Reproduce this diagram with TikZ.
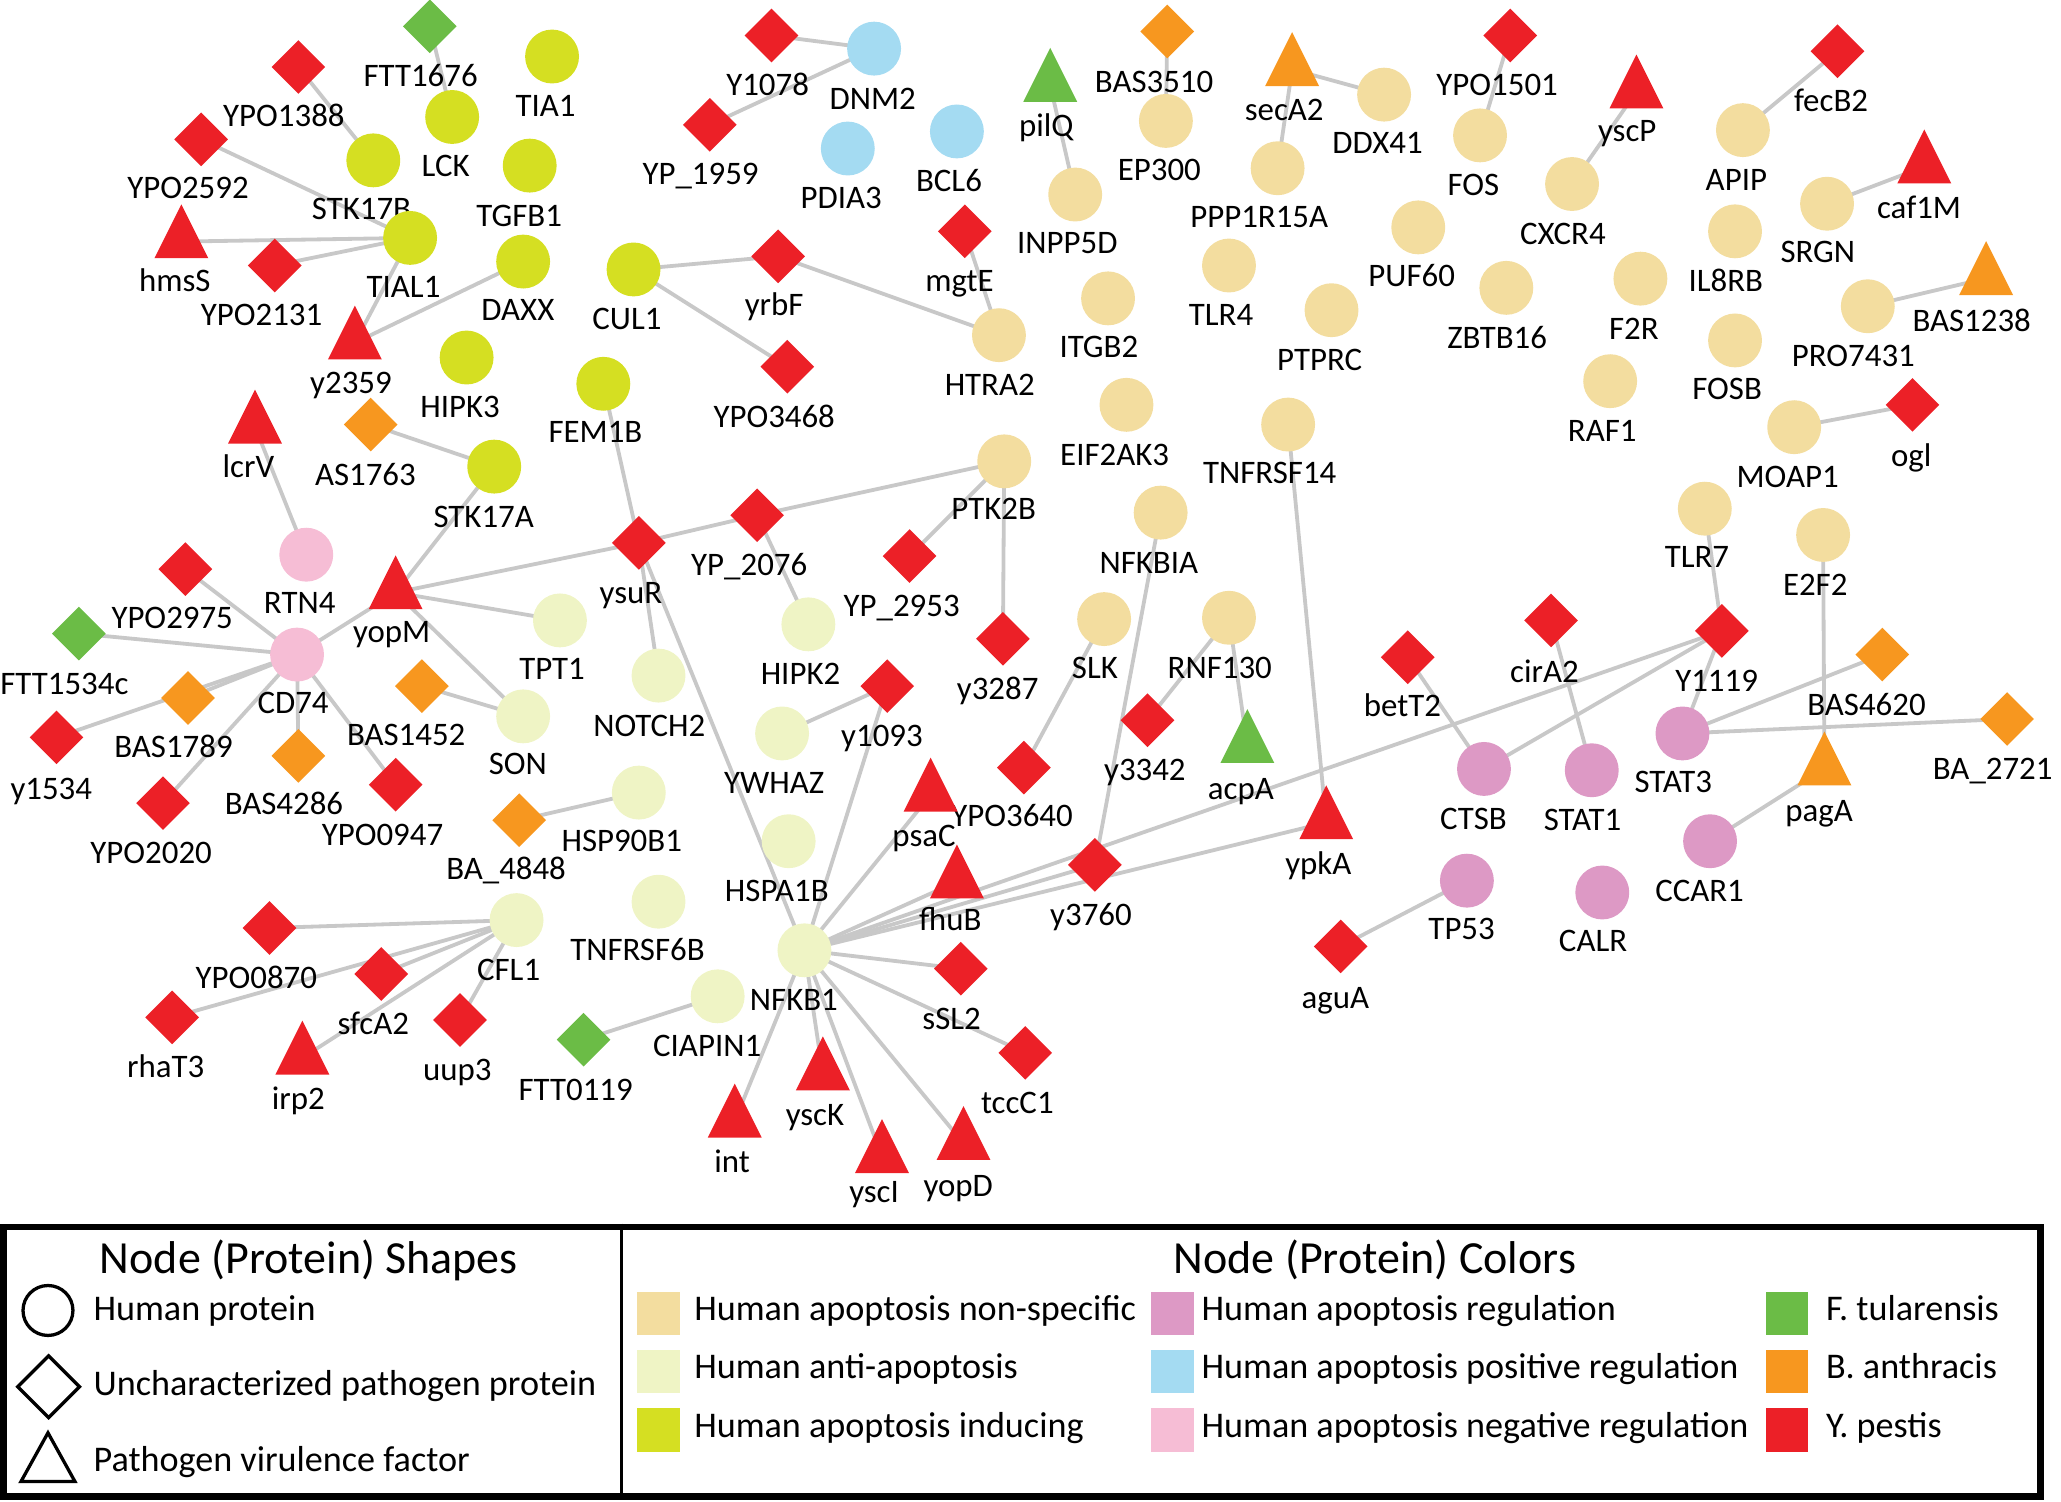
\documentclass[tikz,border=0pt]{standalone}
\usepackage{fontspec}
\setmainfont{Carlito}
\usetikzlibrary{shapes.geometric}
\definecolor{cns}{HTML}{F3DD9F}
\definecolor{canti}{HTML}{EFF4C5}
\definecolor{cind}{HTML}{D5DF22}
\definecolor{creg}{HTML}{DD99C5}
\definecolor{cpos}{HTML}{A4DBF2}
\definecolor{cneg}{HTML}{F6BDD5}
\definecolor{cft}{HTML}{6BBC46}
\definecolor{cba}{HTML}{F7971F}
\definecolor{cyp}{HTML}{EC2027}
\definecolor{cedge}{HTML}{C8C8C8}
\pgfdeclarelayer{bg}
\pgfsetlayers{bg,main}
\newcommand{\pnode}[7]{%
  \node[#2] (#1) at (#3,#4) {};
  \node[lbl] (#1-lab) at (#6,#7) {#5};
}
\tikzset{
  hc/.style={circle, minimum size=41, inner sep=0, draw=none},
  pdia/.style={diamond, minimum width=41, minimum height=41, inner sep=0, draw=none},
  ptri/.style={isosceles triangle, isosceles triangle stretches, shape border rotate=90, minimum width=41, minimum height=41, inner sep=0, draw=none, yshift=-6.8},
  lbl/.style={font=\fontsize{25}{25}\selectfont, inner sep=0, text height=16, text depth=0},
  edge/.style={draw=cedge, line width=2.9},
  legtxt/.style={font=\fontsize{27.5}{27.5}\selectfont, inner sep=0, text height=17.5, text depth=0, anchor=west},
  legtitle/.style={font=\fontsize{35}{35}\selectfont, inner sep=0, text height=22, text depth=0},
  swatch/.style={rectangle, minimum width=32, minimum height=33, inner sep=0, draw=none},
  legshape/.style={draw=black, line width=2.5, fill=white, inner sep=0}
}
\begin{document}
\begin{tikzpicture}[x=1pt,y=-1pt]
\useasboundingbox (0,0) rectangle (1568,1142);
% ---------- left cluster
\pnode{FTT1676}{pdia,fill=cft}{327}{20}{FTT1676}{320}{58}
\pnode{TIA1}{hc,fill=cind}{420}{43}{TIA1}{415}{81}
\pnode{YPO1388}{pdia,fill=cyp}{227}{51}{YPO1388}{216}{88}
\pnode{LCK}{hc,fill=cind}{344}{89}{LCK}{339}{126}
\pnode{YPO2592}{pdia,fill=cyp}{153}{106}{YPO2592}{143}{143}
\pnode{STK17B}{hc,fill=cind}{284}{122}{STK17B}{275}{159}
\pnode{TGFB1}{hc,fill=cind}{403}{126}{TGFB1}{395}{164}
\pnode{hmsS}{ptri,fill=cyp}{138}{177}{hmsS}{133}{214}
\pnode{TIAL1}{hc,fill=cind}{312}{181}{TIAL1}{307}{218}
\pnode{YPO2131}{pdia,fill=cyp}{209}{202}{YPO2131}{199}{240}
\pnode{DAXX}{hc,fill=cind}{398}{199}{DAXX}{394}{236}
\pnode{CUL1}{hc,fill=cind}{482}{205}{CUL1}{477}{243}
\pnode{y2359}{ptri,fill=cyp}{270}{254}{y2359}{267}{291}
\pnode{HIPK3}{hc,fill=cind}{355}{272}{HIPK3}{350}{310}
\pnode{FEM1B}{hc,fill=cind}{459}{292}{FEM1B}{453}{329}
\pnode{lcrV}{ptri,fill=cyp}{194}{318}{lcrV}{189}{355}
\pnode{AS1763}{pdia,fill=cba}{282}{323}{AS1763}{278}{361}
\pnode{STK17A}{hc,fill=cind}{376}{355}{STK17A}{368}{393}
\pnode{RTN4}{hc,fill=cneg}{233}{422}{RTN4}{228}{459}
\pnode{YPO2975}{pdia,fill=cyp}{141}{433}{YPO2975}{131}{470}
\pnode{yopM}{ptri,fill=cyp}{301}{444}{yopM}{298}{481}
\pnode{ysuR}{pdia,fill=cyp}{486}{413}{ysuR}{480}{451}
\pnode{FTT1534c}{pdia,fill=cft}{60}{482}{FTT1534c}{49}{520}
\pnode{CD74}{hc,fill=cneg}{226}{498}{CD74}{223}{535}
\pnode{TPT1}{hc,fill=canti}{426}{472}{TPT1}{420}{509}
\pnode{NOTCH2}{hc,fill=canti}{501}{514}{NOTCH2}{494}{552}
\pnode{BAS1789}{pdia,fill=cba}{143}{531}{BAS1789}{132}{568}
\pnode{BAS1452}{pdia,fill=cba}{321}{522}{BAS1452}{309}{559}
\pnode{SON}{hc,fill=canti}{398}{545}{SON}{394}{581}
\pnode{y1534}{pdia,fill=cyp}{43}{561}{y1534}{39}{600}
\pnode{BAS4286}{pdia,fill=cba}{227}{575}{BAS4286}{216}{612}
\pnode{YPO0947}{pdia,fill=cyp}{301}{597}{YPO0947}{291}{635}
\pnode{YPO2020}{pdia,fill=cyp}{124}{611}{YPO2020}{115}{649}
\pnode{BA4848}{pdia,fill=cba}{395}{624}{BA\_4848}{385}{661}
\pnode{HSP90B1}{hc,fill=canti}{486}{603}{HSP90B1}{473}{640}
\pnode{YPO0870}{pdia,fill=cyp}{205}{706}{YPO0870}{195}{744}
\pnode{CFL1}{hc,fill=canti}{393}{700}{CFL1}{387}{738}
\pnode{TNFRSF6B}{hc,fill=canti}{501}{686}{TNFRSF6B}{485}{723}
\pnode{sfcA2}{pdia,fill=cyp}{290}{741}{sfcA2}{284}{779}
\pnode{CIAPIN1}{hc,fill=canti}{546}{758}{CIAPIN1}{538}{796}
\pnode{rhaT3}{pdia,fill=cyp}{131}{774}{rhaT3}{126}{812}
\pnode{uup3}{pdia,fill=cyp}{350}{776}{uup3}{348}{814}
\pnode{FTT0119}{pdia,fill=cft}{444}{791}{FTT0119}{438}{829}
\pnode{irp2}{ptri,fill=cyp}{230}{798}{irp2}{227}{836}
\pnode{int}{ptri,fill=cyp}{559}{846}{int}{557}{884}
% ---------- middle
\pnode{Y1078}{pdia,fill=cyp}{587}{27}{Y1078}{584}{65}
\pnode{DNM2}{hc,fill=cpos}{665}{37}{DNM2}{664}{75}
\pnode{BAS3510}{pdia,fill=cba}{888}{24}{BAS3510}{878}{62}
\pnode{secA2}{ptri,fill=cba}{983}{46}{secA2}{977}{84}
\pnode{pilQ}{ptri,fill=cft}{799}{58}{pilQ}{796}{96}
\pnode{YP1959}{pdia,fill=cyp}{540}{95}{YP\_1959}{533}{132}
\pnode{PDIA3}{hc,fill=cpos}{645}{113}{PDIA3}{640}{151}
\pnode{BCL6}{hc,fill=cpos}{728}{100}{BCL6}{722}{138}
\pnode{EP300}{hc,fill=cns}{887}{92}{EP300}{882}{129}
\pnode{DDX41}{hc,fill=cns}{1053}{72}{DDX41}{1048}{109}
\pnode{PPP1R15A}{hc,fill=cns}{972}{128}{PPP1R15A}{958}{165}
\pnode{INPP5D}{hc,fill=cns}{818}{148}{INPP5D}{812}{185}
\pnode{mgtE}{pdia,fill=cyp}{734}{176}{mgtE}{730}{214}
\pnode{yrbF}{pdia,fill=cyp}{592}{195}{yrbF}{589}{232}
\pnode{TLR4}{hc,fill=cns}{935}{202}{TLR4}{929}{240}
\pnode{ITGB2}{hc,fill=cns}{843}{227}{ITGB2}{836}{264}
\pnode{PTPRC}{hc,fill=cns}{1013}{236}{PTPRC}{1004}{274}
\pnode{HTRA2}{hc,fill=cns}{760}{255}{HTRA2}{753}{293}
\pnode{YPO3468}{pdia,fill=cyp}{599}{279}{YPO3468}{589}{317}
\pnode{EIF2AK3}{hc,fill=cns}{857}{308}{EIF2AK3}{848}{346}
\pnode{TNFRSF14}{hc,fill=cns}{980}{323}{TNFRSF14}{966}{360}
\pnode{PTK2B}{hc,fill=cns}{764}{351}{PTK2B}{756}{387}
\pnode{YP2076}{pdia,fill=cyp}{576}{392}{YP\_2076}{570}{430}
\pnode{YP2953}{pdia,fill=cyp}{692}{423}{YP\_2953}{686}{461}
\pnode{NFKBIA}{hc,fill=cns}{883}{390}{NFKBIA}{874}{428}
\pnode{HIPK2}{hc,fill=canti}{615}{475}{HIPK2}{609}{513}
\pnode{y3287}{pdia,fill=cyp}{763}{486}{y3287}{759}{524}
\pnode{SLK}{hc,fill=cns}{840}{471}{SLK}{833}{508}
\pnode{RNF130}{hc,fill=cns}{935}{470}{RNF130}{928}{508}
\pnode{y1093}{pdia,fill=cyp}{675}{522}{y1093}{671}{560}
\pnode{YWHAZ}{hc,fill=canti}{595}{558}{YWHAZ}{589}{596}
\pnode{y3342}{pdia,fill=cyp}{873}{548}{y3342}{871}{586}
\pnode{acpA}{ptri,fill=cft}{949}{561}{acpA}{944}{600}
\pnode{YPO3640}{pdia,fill=cyp}{779}{584}{YPO3640}{770}{621}
\pnode{psaC}{ptri,fill=cyp}{708}{598}{psaC}{703}{636}
\pnode{HSPA1B}{hc,fill=canti}{600}{640}{HSPA1B}{591}{678}
\pnode{fhuB}{ptri,fill=cyp}{728}{664}{fhuB}{723}{700}
\pnode{y3760}{pdia,fill=cyp}{833}{658}{y3760}{830}{696}
\pnode{ypkA}{ptri,fill=cyp}{1009}{619}{ypkA}{1003}{657}
\pnode{NFKB1}{hc,fill=canti}{612}{723}{NFKB1}{604}{761}
\pnode{sSL2}{pdia,fill=cyp}{731}{737}{sSL2}{724}{775}
\pnode{tccC1}{pdia,fill=cyp}{780}{801}{tccC1}{774}{839}
\pnode{yscK}{ptri,fill=cyp}{626}{810}{yscK}{620}{848}
\pnode{yscI}{ptri,fill=cyp}{671}{873}{yscI}{665}{907}
\pnode{yopD}{ptri,fill=cyp}{733}{863}{yopD}{729}{902}
\pnode{aguA}{pdia,fill=cyp}{1020}{720}{aguA}{1016}{759}
% ---------- right
\pnode{YPO1501}{pdia,fill=cyp}{1149}{27}{YPO1501}{1139}{65}
\pnode{fecB2}{pdia,fill=cyp}{1398}{39}{fecB2}{1393}{77}
\pnode{yscP}{ptri,fill=cyp}{1245}{63}{yscP}{1238}{100}
\pnode{FOS}{hc,fill=cns}{1126}{103}{FOS}{1121}{141}
\pnode{APIP}{hc,fill=cns}{1326}{99}{APIP}{1321}{137}
\pnode{caf1M}{ptri,fill=cyp}{1464}{120}{caf1M}{1460}{158}
\pnode{CXCR4}{hc,fill=cns}{1196}{140}{CXCR4}{1189}{178}
\pnode{SRGN}{hc,fill=cns}{1390}{155}{SRGN}{1383}{192}
\pnode{PUF60}{hc,fill=cns}{1079}{173}{PUF60}{1074}{210}
\pnode{IL8RB}{hc,fill=cns}{1320}{176}{IL8RB}{1313}{214}
\pnode{F2R}{hc,fill=cns}{1248}{212}{F2R}{1243}{250}
\pnode{ZBTB16}{hc,fill=cns}{1146}{219}{ZBTB16}{1139}{257}
\pnode{BAS1238}{ptri,fill=cba}{1511}{205}{BAS1238}{1500}{244}
\pnode{PRO7431}{hc,fill=cns}{1421}{233}{PRO7431}{1410}{271}
\pnode{FOSB}{hc,fill=cns}{1320}{259}{FOSB}{1314}{296}
\pnode{RAF1}{hc,fill=cns}{1225}{290}{RAF1}{1219}{328}
\pnode{ogl}{pdia,fill=cyp}{1455}{308}{ogl}{1454}{347}
\pnode{MOAP1}{hc,fill=cns}{1365}{325}{MOAP1}{1360}{363}
\pnode{TLR7}{hc,fill=cns}{1297}{387}{TLR7}{1291}{424}
\pnode{E2F2}{hc,fill=cns}{1387}{407}{E2F2}{1381}{445}
\pnode{cirA2}{pdia,fill=cyp}{1180}{472}{cirA2}{1175}{511}
\pnode{Y1119}{pdia,fill=cyp}{1310}{480}{Y1119}{1306}{518}
\pnode{betT2}{pdia,fill=cyp}{1071}{500}{betT2}{1067}{537}
\pnode{BAS4620}{pdia,fill=cba}{1432}{498}{BAS4620}{1420}{536}
\pnode{BA2721}{pdia,fill=cba}{1527}{547}{BA\_2721}{1516}{585}
\pnode{STAT3}{hc,fill=creg}{1280}{558}{STAT3}{1273}{595}
\pnode{pagA}{ptri,fill=cba}{1388}{578}{pagA}{1384}{617}
\pnode{CTSB}{hc,fill=creg}{1129}{585}{CTSB}{1121}{623}
\pnode{STAT1}{hc,fill=creg}{1211}{586}{STAT1}{1204}{624}
\pnode{CCAR1}{hc,fill=creg}{1301}{640}{CCAR1}{1293}{678}
\pnode{TP53}{hc,fill=creg}{1116}{670}{TP53}{1112}{707}
\pnode{CALR}{hc,fill=creg}{1219}{679}{CALR}{1212}{716}
% ---------- edges
\begin{pgfonlayer}{bg}
\foreach \a/\b in {FTT1676/LCK, YPO1388/STK17B, YPO2592/TIAL1, hmsS/TIAL1, YPO2131/TIAL1,
  TIAL1/y2359, y2359/DAXX, AS1763/STK17A, STK17A/yopM, lcrV/RTN4, CUL1/yrbF, yrbF/HTRA2,
  CUL1/YPO3468, mgtE/HTRA2, Y1078/DNM2, YP1959/DNM2, pilQ/INPP5D, BAS3510/EP300,
  secA2/DDX41, secA2/PPP1R15A, YPO1501/FOS, yscP/CXCR4, fecB2/APIP, caf1M/SRGN,
  BAS1238/PRO7431, ogl/MOAP1,
  yopM/ysuR, ysuR/YP2076, YP2076/PTK2B, yopM/TPT1, yopM/SON, yopM/CD74, FEM1B/ysuR,
  ysuR/NOTCH2, ysuR/NFKB1, YP2076/HIPK2, YP2953/PTK2B, PTK2B/y3287,
  CD74/YPO2975, CD74/FTT1534c, CD74/BAS1789, CD74/y1534, CD74/BAS4286, CD74/YPO2020,
  CD74/YPO0947, BAS1452/SON, BA4848/HSP90B1,
  CFL1/YPO0870, CFL1/rhaT3, CFL1/sfcA2, CFL1/irp2, CFL1/uup3, FTT0119/CIAPIN1,
  y1093/YWHAZ, y1093/NFKB1, SLK/YPO3640, NFKBIA/y3760, RNF130/y3342, RNF130/acpA,
  TNFRSF14/ypkA,
  NFKB1/psaC, NFKB1/fhuB, NFKB1/y3760, NFKB1/ypkA, NFKB1/Y1119, NFKB1/sSL2, NFKB1/tccC1,
  NFKB1/int, NFKB1/yscK, NFKB1/yscI, NFKB1/yopD,
  TLR7/Y1119, Y1119/CTSB, Y1119/STAT3, betT2/CTSB, cirA2/STAT1, STAT3/BAS4620,
  STAT3/BA2721, E2F2/pagA, pagA/CCAR1, TP53/aguA}
  \draw[edge] (\a.center) -- (\b.center);
\end{pgfonlayer}
% ---------- legend
\node[draw=black, line width=5, minimum width=1550, minimum height=205, inner sep=0] (legbox) at (777.5,1036) {};
\draw[line width=2.5] (legbox.north west -| 473,0) -- (legbox.south west -| 473,0);
\node[legtitle] (ttl1) at (235,958) {Node (Protein) Shapes};
\node[legtitle] (ttl2) at (1046,958) {Node (Protein) Colors};
\node[legshape, circle, minimum size=38] (lc) at (36.5,997) {};
\node[legshape, diamond, minimum width=48, minimum height=48] (ld) at (37,1055) {};
\node[legshape, isosceles triangle, isosceles triangle stretches, shape border rotate=90, minimum width=41, minimum height=37, yshift=-6] (lt) at (36.5,1109) {};
\node[legtxt] (lct) at (71,996) {Human protein};
\node[legtxt] (ldt) at (71,1053) {Uncharacterized pathogen protein};
\node[legtxt] (ltt) at (71,1111) {Pathogen virulence factor};
\node[swatch, fill=cns] (s1) at (501,999.5) {};
\node[swatch, fill=canti] (s2) at (501,1043.5) {};
\node[swatch, fill=cind] (s3) at (501,1088) {};
\node[swatch, fill=creg] (s4) at (892,999.5) {};
\node[swatch, fill=cpos] (s5) at (892,1043.5) {};
\node[swatch, fill=cneg] (s6) at (892,1088) {};
\node[swatch, fill=cft] (s7) at (1359.5,999.5) {};
\node[swatch, fill=cba] (s8) at (1359.5,1043.5) {};
\node[swatch, fill=cyp] (s9) at (1359.5,1088) {};
\node[legtxt] (t1) at (528,996) {Human apoptosis non-specific};
\node[legtxt] (t2) at (528,1040) {Human anti-apoptosis};
\node[legtxt] (t3) at (528,1085) {Human apoptosis inducing};
\node[legtxt] (t4) at (914,996) {Human apoptosis regulation};
\node[legtxt] (t5) at (914,1040) {Human apoptosis positive regulation};
\node[legtxt] (t6) at (914,1085) {Human apoptosis negative regulation};
\node[legtxt] (t7) at (1389,996) {F. tularensis};
\node[legtxt] (t8) at (1389,1040) {B. anthracis};
\node[legtxt] (t9) at (1389,1085) {Y. pestis};
\end{tikzpicture}
\end{document}
